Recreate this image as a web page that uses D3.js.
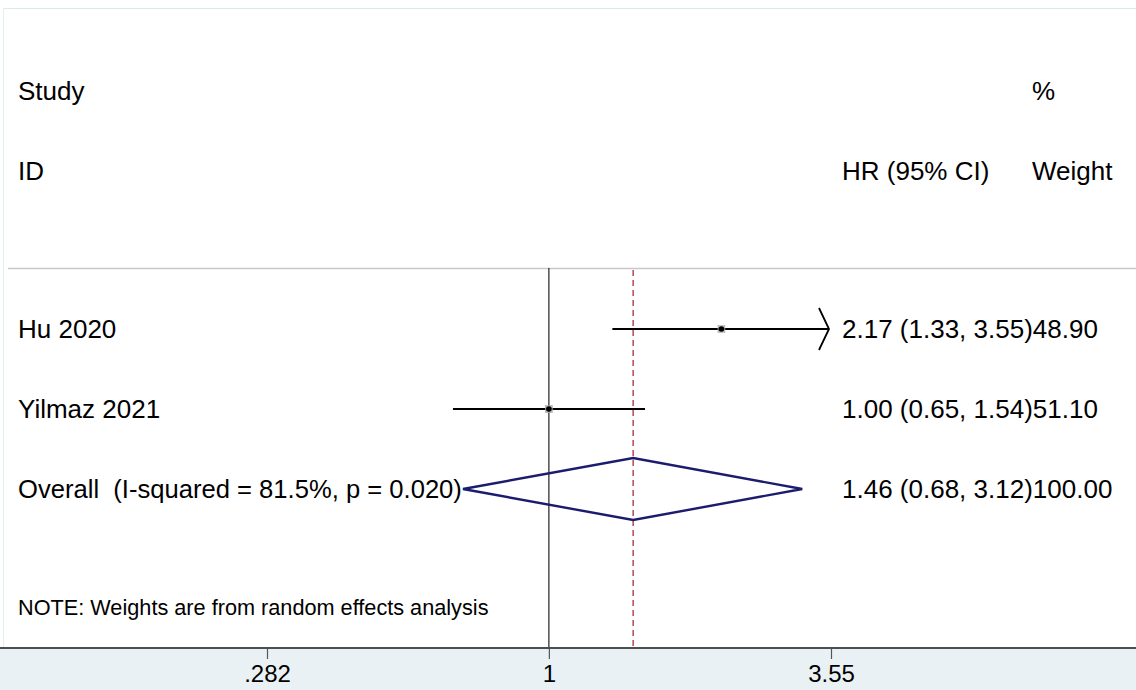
<!DOCTYPE html>
<html>
<head>
<meta charset="utf-8">
<script src="https://cdn.jsdelivr.net/npm/d3@7"></script>
<style>
body { margin: 0; background: #fff; }
text { font-family: "Liberation Sans", Arial, sans-serif; fill: #000; white-space: pre; }
</style>
</head>
<body>
<svg id="chart" width="1136" height="690"></svg>
<script>
// data
var studies = ["Hu 2020", "Yilmaz 2021"];
var hr = [2.17, 1.00];
var lo = [1.33, 0.65];
var hi = [3.55, 1.54];
var weights = [48.90, 51.10];
var overallLabel = "Overall  (I-squared = 81.5%, p = 0.020)";
var overall = [1.46, 0.68, 3.12]; // hr, lo, hi
var overallWeight = 100.00;
var axisTicks = [0.282, 1, 3.55];
var tickLabels = [".282", "1", "3.55"];

var svg = d3.select("#chart");
var W = 1136, H = 690;
var axisY = 648;

var x = d3.scaleLog().domain([axisTicks[0], axisTicks[2]]).range([267, 831]);
var rows = studies.concat(["Overall"]);
var y = d3.scalePoint().domain(rows).range([329, 489]);
var box = d3.scaleSqrt().domain([0, 100]).range([0, 11]);

// frame
svg.append("rect").attr("x", 0).attr("y", 0).attr("width", W).attr("height", H).attr("fill", "#fff");
svg.append("rect").attr("x", 0).attr("y", axisY + 1).attr("width", W).attr("height", H - axisY).attr("fill", "#eaf1f4");
svg.append("line").attr("x1", 3.5).attr("x2", W).attr("y1", 8.5).attr("y2", 8.5).attr("stroke", "#dce9ee");
svg.append("line").attr("x1", 3.5).attr("x2", 3.5).attr("y1", 8.5).attr("y2", axisY).attr("stroke", "#e3eef2");
svg.append("line").attr("x1", 8).attr("x2", W).attr("y1", 268.5).attr("y2", 268.5).attr("stroke", "#c8c8c8").attr("stroke-width", 1.3);

// headers
var fs = 26;
function txt(s, tx, ty, size) {
	return svg.append("text").attr("x", tx).attr("y", ty).attr("dy", "0.36em")
		.attr("xml:space", "preserve")
		.style("font-size", (size || fs) + "px").text(s);
}
function ci(h, l, u) {
	return h.toFixed(2) + " (" + l.toFixed(2) + ", " + u.toFixed(2) + ")";
}
txt("Study", 18, 91);
txt("ID", 18, 171);
txt("%", 1032, 91);
txt("HR (95% CI)", 842, 171);
txt("Weight", 1032, 171);

// reference lines
svg.append("line").attr("x1", x(1)).attr("x2", x(1)).attr("y1", 268).attr("y2", axisY)
	.attr("stroke", "#222").attr("stroke-width", 1.2);
svg.append("line").attr("x1", x(overall[0])).attr("x2", x(overall[0])).attr("y1", 270).attr("y2", axisY)
	.attr("stroke", "#b03a4a").attr("stroke-width", 1.4).attr("stroke-dasharray", "6,4");

// studies
var xmax = axisTicks[2];
studies.forEach(function(s, i) {
	var yy = y(s);
	var x2 = hi[i] >= xmax ? x(xmax) - 2 : x(hi[i]);
	svg.append("line").attr("x1", x(lo[i])).attr("x2", x2).attr("y1", yy).attr("y2", yy)
		.attr("stroke", "#000").attr("stroke-width", 1.8);
	if (hi[i] >= xmax) {
		svg.append("path")
			.attr("d", "M" + (x2 - 10) + "," + (yy - 21) + "L" + x2 + "," + yy + "L" + (x2 - 10) + "," + (yy + 21))
			.attr("fill", "none").attr("stroke", "#000").attr("stroke-width", 1.8);
	}
	var b = box(weights[i]);
	svg.append("rect").attr("x", x(hr[i]) - b / 2).attr("y", yy - b / 2).attr("width", b).attr("height", b)
		.attr("fill", "#a8a8a8").attr("opacity", 0.8);
	svg.append("circle").attr("cx", x(hr[i])).attr("cy", yy).attr("r", 2.8).attr("fill", "#000");

	txt(s, 18, yy);
	var t = txt(ci(hr[i], lo[i], hi[i]), 842, yy);
	t.append("tspan").text(weights[i].toFixed(2));
});

// overall diamond
var oy = y("Overall");
svg.append("path")
	.attr("d", "M" + x(overall[1]) + "," + oy + "L" + x(overall[0]) + "," + (oy - 31) +
		"L" + x(overall[2]) + "," + oy + "L" + x(overall[0]) + "," + (oy + 31) + "Z")
	.attr("fill", "none").attr("stroke", "#1c1c6e").attr("stroke-width", 2.4);
txt(overallLabel, 18, oy, 25.6);
var ot = txt(ci(overall[0], overall[1], overall[2]), 842, oy);
ot.append("tspan").text(overallWeight.toFixed(2));

txt("NOTE: Weights are from random effects analysis", 18, 607, 21.7);

// axis
svg.append("line").attr("x1", 0).attr("x2", W).attr("y1", axisY).attr("y2", axisY)
	.attr("stroke", "#4a5050").attr("stroke-width", 2.2);
var axis = d3.axisBottom(x).tickValues(axisTicks)
	.tickFormat(function(d, i) { return tickLabels[i]; })
	.tickSize(10).tickPadding(6);
var gx = svg.append("g").attr("transform", "translate(0," + (axisY + 1) + ")").call(axis);
gx.select(".domain").remove();
gx.selectAll(".tick line").attr("stroke", "#555").attr("stroke-width", 1.2);
gx.selectAll(".tick text")
	.style("font-size", "24px").style("font-family", "'Liberation Sans', Arial, sans-serif")
	.attr("fill", "#000");
</script>
</body>
</html>
